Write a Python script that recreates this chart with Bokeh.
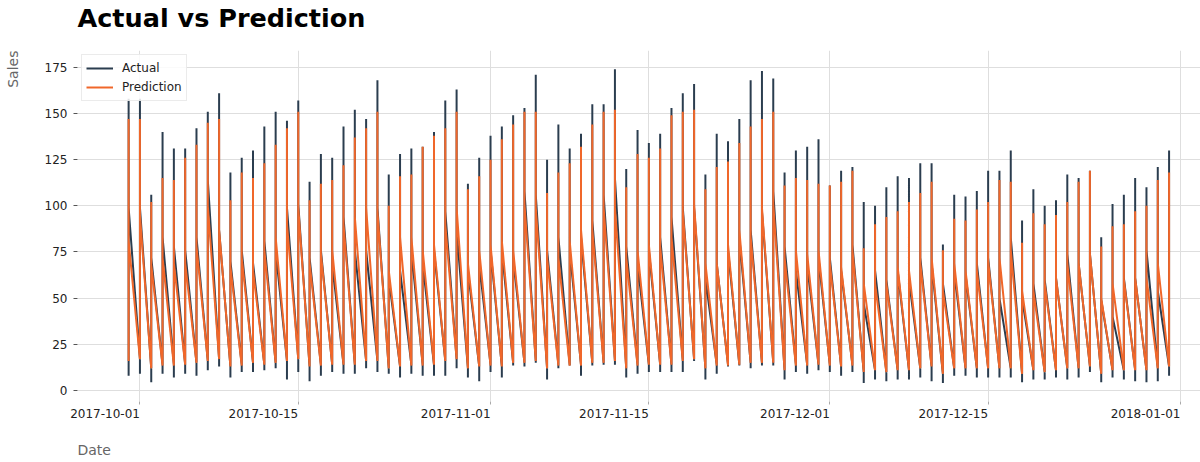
import pandas as pd
from bokeh.plotting import figure
from bokeh.models import Range1d, FixedTicker, Title
from bokeh.embed import file_html
from bokeh.resources import INLINE

# ---------------- data ----------------
start_date = "2017-09-30"
n_days = 93
dates = pd.date_range(start_date, periods=n_days, freq="D")

actual_high = [158, 158, 106, 140, 131, 131, 142, 151, 161, 118, 126, 130, 143, 151, 146, 157, 113,
               128, 126, 143, 152, 147, 168, 117, 128, 131, 132, 140, 157, 163, 112, 126, 138, 143, 149, 153, 171, 125,
               144, 131, 139, 155, 155, 174, 120, 141, 134, 139, 153, 161, 166, 117, 139, 135, 147, 168, 173, 169, 118,
               130, 132, 136, 111, 119, 121, 102, 100, 110, 116, 115, 123, 123, 79, 106, 105, 108, 119,
               119, 130, 92, 109, 100, 103, 117, 115, 119, 83, 101, 106, 115, 110, 121, 130]
pred_high = [147, 147, 102, 115, 114, 126, 133, 145, 147, 103, 118, 115, 123, 133, 142, 151, 103,
             112, 114, 122, 137, 142, 151, 100, 116, 117, 132, 138, 142, 151, 109, 116, 125, 136, 144, 151, 151, 107,
             118, 123, 132, 144, 151, 152, 110, 128, 126, 131, 149, 151, 152, 109, 121, 124, 134, 143, 147, 151, 111,
             115, 114, 112, 111, 113, 119, 77, 90, 94, 97, 102, 107, 113, 76, 93, 92, 98, 102,
             114, 113, 80, 96, 90, 95, 102, 113, 119, 78, 89, 90, 97, 100, 114, 118]
actual_low = [8, 9, 4.5, 9, 7, 9, 8, 11, 13, 7, 10, 10, 11, 12, 6, 10, 5,
              8, 10, 9, 9, 12, 10, 9, 7, 9, 8, 8, 8, 12, 7, 5, 10, 7, 13.5, 13, 15, 6,
              12, 13.5, 8, 13.5, 14, 14, 7, 9, 10, 10, 10, 10, 16, 6, 9, 13, 13.5, 12, 13.5, 13.5, 6,
              10, 9, 11, 10, 8, 10, 4, 6, 5, 6, 6, 7, 5, 4, 8, 8, 7, 7,
              7, 7, 4.5, 6, 6, 7, 6, 7, 10, 4.5, 7, 6, 5, 4.5, 5, 8]
actual_first = [16, 17, 12, 14, 14, 14, 15, 16, 17, 13, 14, 15, 14, 15, 16, 17, 13,
                14, 14, 14, 14, 16, 16, 12, 13, 14, 14, 14, 16, 17, 12, 13, 14, 13, 15, 15, 16, 12,
                14, 14, 14, 15, 15, 16, 12, 14, 14, 14, 14, 16, 17, 12, 14, 14, 14, 15, 15, 15, 11,
                14, 14, 14, 14, 13, 14, 10, 11, 10, 11, 11, 12, 13, 9, 12, 12, 12, 12,
                12, 12, 9, 11, 10, 11, 12, 12, 13, 9, 11, 11, 11, 11, 12, 13]
pred_low = [16, 17, 12, 13.5, 13.5, 14, 15, 16, 17, 13, 13.5, 15, 14, 15, 16, 17, 13,
            13.5, 14, 14, 14, 16, 16, 12, 13, 13.5, 13.5, 14, 16, 17, 12, 13, 13.5, 13, 15, 15, 16, 12,
            13.5, 13.5, 13.5, 15, 15, 16, 12, 13.5, 14, 14, 14, 16, 17, 12, 13.5, 13.5, 14, 15, 15, 15, 11,
            13.5, 13.5, 14, 13.5, 13, 13.5, 10, 11, 10, 11, 11, 12, 13, 9, 12, 12, 12, 12,
            12, 12, 9, 11, 10, 11, 12, 12, 13, 9, 11, 11, 11, 11, 12, 13]
actual_last = [99, 99, 72, 83, 78, 76, 83, 114, 87, 70, 76, 69, 81, 76, 99, 101, 72,
               76, 69, 94, 76, 76, 99, 61, 65, 76, 69, 76, 97, 87, 65, 69, 76, 76, 72, 108, 106, 76,
               83, 76, 83, 92, 106, 115, 78, 69, 76, 83, 94, 99, 99, 61, 69, 76, 83, 87, 97, 108, 78,
               65, 69, 72, 72, 65, 79, 47, 65, 60, 65, 60, 72, 69, 58, 65, 63, 69, 72,
               50, 83, 50, 58, 60, 61, 74, 69, 74, 49, 40, 61, 61, 76, 54, 25]
pred_last = [81, 95, 68, 72, 69, 69, 78, 100, 87, 67, 72, 65, 76, 83, 90, 99, 69,
             74, 76, 90, 94, 99, 97, 65, 83, 83, 76, 79, 90, 99, 69, 76, 79, 81, 76, 101, 99, 72,
             72, 81, 87, 87, 99, 99, 72, 76, 79, 78, 83, 97, 101, 69, 69, 79, 87, 83, 99, 101, 72,
             76, 74, 76, 69, 67, 76, 58, 58, 58, 67, 65, 69, 72, 54, 69, 65, 65, 70,
             72, 76, 54, 54, 58, 61, 69, 69, 74, 50, 58, 60, 61, 61, 69, 30]

x_tick_labels = ["2017-10-01", "2017-10-15", "2017-11-01", "2017-11-15",
                 "2017-12-01", "2017-12-15", "2018-01-01"]
y_ticks = [0, 25, 50, 75, 100, 125, 150, 175]

# ---------------- helpers ----------------
def ms(ts):
    return int(pd.Timestamp(ts).value // 10**6)

def build_path(*cols):
    xs, ys = [], []
    for i, d in enumerate(dates):
        for c in cols:
            xs.append(d)
            ys.append(c[i])
    return xs, ys

ax, ay = build_path(actual_first, actual_high, actual_low, actual_last)
px, py = build_path(pred_low, pred_high, pred_last)

x_start = pd.Timestamp("2017-09-25 11:30")
x_end = pd.Timestamp("2018-01-02 18:40")

p = figure(width=1200, height=462, x_axis_type="datetime",
           x_range=Range1d(x_start, x_end), y_range=Range1d(-5.96, 184.1),
           output_backend="svg", toolbar_location=None,
           min_border_left=77, min_border_right=0, min_border_top=50, min_border_bottom=61)
p.title_location = None

p.outline_line_color = None
p.background_fill_color = "white"
p.border_fill_color = "white"

p.line(ax, ay, line_color="#2b3d4f", line_width=2, legend_label="Actual")
p.line(px, py, line_color="#f0672a", line_width=2, legend_label="Prediction")

# x axis
xt = [ms(t) for t in x_tick_labels]
xticker = FixedTicker(ticks=xt)
p.xaxis.ticker = xticker
p.xgrid.ticker = xticker
p.xaxis.major_label_overrides = {k: lab for k, lab in zip(xt, x_tick_labels)}
p.xaxis.major_label_orientation = 1e-9
p.xaxis.axis_line_color = None
p.xaxis.major_tick_line_color = "#aaaaaa"
p.xaxis.major_tick_out = 3
p.xaxis.major_tick_in = 0
p.xaxis.minor_tick_line_color = None
p.xaxis.major_label_text_font = "DejaVu Sans"
p.xaxis.major_label_text_font_size = "12px"
p.xaxis.major_label_text_color = "#222222"
p.xaxis.major_label_standoff = 9

# y axis
yticker = FixedTicker(ticks=y_ticks)
p.yaxis.ticker = yticker
p.ygrid.ticker = yticker
p.yaxis.axis_line_color = None
p.yaxis.major_tick_line_color = "#555555"
p.yaxis.major_tick_out = 4
p.yaxis.major_tick_in = 0
p.yaxis.minor_tick_line_color = None
p.yaxis.major_label_text_font = "DejaVu Sans"
p.yaxis.major_label_text_font_size = "12px"
p.yaxis.major_label_text_color = "#222222"
p.yaxis.major_label_standoff = 6

for g in (p.xgrid, p.ygrid):
    g.grid_line_color = "#dedede"
    g.grid_line_width = 1

# padding tuples are (left, right, top, bottom)
# title (bottom padding lifts it to the top of the page)
p.add_layout(Title(text="Actual vs Prediction", align="left", text_font="DejaVu Sans",
                   text_font_size="25.5px", text_font_style="bold", text_color="#000000",
                   standoff=0, padding=(0, 0, 0, 18)), "above")

# y axis title
p.add_layout(Title(text="Sales", align="right", text_font="DejaVu Sans", text_font_size="14px",
                   text_font_style="normal", text_color="#666666", standoff=0,
                   padding=(0, 0, 0, 21)), "left")

# x axis title
p.add_layout(Title(text="Date", align="left", vertical_align="top", text_font="DejaVu Sans",
                   text_font_size="14px", text_font_style="normal", text_color="#666666",
                   standoff=0, padding=(0, 0, 16, 0)), "below")

# legend
lg = p.legend[0]
lg.location = "top_left"
lg.margin = 4
lg.padding = 4
lg.spacing = 1
lg.label_height = 18
lg.glyph_height = 18
lg.glyph_width = 27
lg.label_standoff = 9
lg.label_text_font = "DejaVu Sans"
lg.label_text_font_size = "12px"
lg.label_text_color = "#222222"
lg.border_line_color = "#d8d8d8"
lg.background_fill_alpha = 0.85

open("out.html", "w").write(file_html(p, INLINE))
